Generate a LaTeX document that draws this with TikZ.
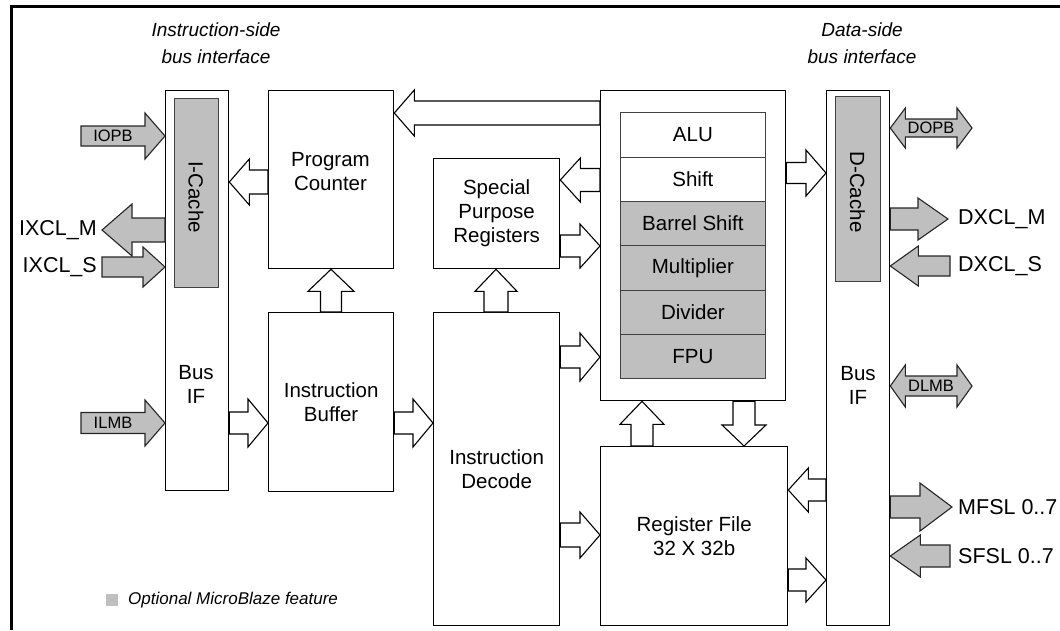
\documentclass[tikz,border=0pt]{standalone}
\usepackage{fontspec}
\setmainfont{Liberation Sans}
\usetikzlibrary{calc}
\tikzset{
  box/.style={draw=black, line width=1.3pt, fill=white, inner sep=0pt, align=center,
    font=\fontsize{20.5}{24}\selectfont, anchor=north west},
  optbox/.style={box, fill=black!25, line width=0.8pt, draw=black!75},
  plainrow/.style={box, line width=0.8pt, draw=black!75},
  hollow/.style={draw=black, fill=white, line width=1.1pt, line join=miter},
  grayarr/.style={draw=black!85, fill=black!25, line width=1.1pt, line join=miter},
  lbl/.style={font=\fontsize{21.5}{24}\selectfont, inner sep=0pt},
  inlbl/.style={font=\fontsize{16.5}{18}\selectfont, inner sep=0pt},
  txt/.style={font=\fontsize{20.5}{24}\selectfont, inner sep=0pt, align=center},
  hdr/.style={font=\fontsize{19}{27}\selectfont\itshape, align=center, inner sep=0pt},
  frameline/.style={line width=3pt, black},
}
% horizontal block arrow: style, tail, tip, body half, head half, head length
\newcommand{\hblock}[6]{%
  \draw[#1] let \p1=#2, \p2=#3, \n1={sign(\x2-\x1)} in
    (\x1,\y2+#4) -- ({\x2-(\n1)*#6},\y2+#4) -- ({\x2-(\n1)*#6},\y2+#5) -- (\x2,\y2)
    -- ({\x2-(\n1)*#6},\y2-#5) -- ({\x2-(\n1)*#6},\y2-#4) -- (\x1,\y2-#4) -- cycle;}
% vertical block arrow
\newcommand{\vblock}[6]{%
  \draw[#1] let \p1=#2, \p2=#3, \n1={sign(\y2-\y1)} in
    (\x2+#4,\y1) -- (\x2+#4,{\y2-(\n1)*#6}) -- (\x2+#5,{\y2-(\n1)*#6}) -- (\x2,\y2)
    -- (\x2-#5,{\y2-(\n1)*#6}) -- (\x2-#4,{\y2-(\n1)*#6}) -- (\x2-#4,\y1) -- cycle;}
% double block arrow: style, left tip, right tip, body half, head half, head length
\newcommand{\dblock}[6]{%
  \draw[#1] let \p1=#2, \p2=#3 in
    (\x1,\y1) -- (\x1+#6,\y1+#5) -- (\x1+#6,\y1+#4) -- (\x2-#6,\y1+#4) -- (\x2-#6,\y1+#5)
    -- (\x2,\y1) -- (\x2-#6,\y1-#5) -- (\x2-#6,\y1-#4) -- (\x1+#6,\y1-#4) -- (\x1+#6,\y1-#5) -- cycle;}
\begin{document}
\begin{tikzpicture}[x=1pt,y=-1pt]
\useasboundingbox (0,0) rectangle (1060,630);
% frame
\coordinate (ftl) at (11,6.5);
\coordinate (ftr) at (1060,6.5);
\coordinate (fbl) at (11,630);
\draw[frameline] (ftr) -- (ftl) -- (fbl);

% headers
\node[hdr] (hi) at (216,43) {Instruction-side\\bus interface};
\node[hdr] (hd) at (862,43) {Data-side\\bus interface};

% instruction side bus IF
\node[box, minimum width=63pt, minimum height=400pt] (ibif) at (165,90) {};
\node[optbox, minimum width=44pt, minimum height=189pt] (icache) at (174,98) {};
\node[txt, rotate=-90] (icl) at (196,197) {I-Cache};
\node[txt] (ibifl) at (196,384) {Bus\\IF};

% program counter, instruction buffer
\node[box, minimum width=125pt, minimum height=178pt] (pc) at (268,90) {};
\node[txt] (pcl) at (330.5,172) {Program\\Counter};
\node[box, minimum width=125pt, minimum height=179pt] (ibuf) at (268,312) {Instruction\\Buffer};

% SPR, ID
\node[box, minimum width=126pt, minimum height=110pt] (spr) at (433,158) {Special\\Purpose\\Registers};
\node[box, minimum width=126pt, minimum height=313pt] (id) at (433,312) {Instruction\\Decode};

% execution unit
\node[box, minimum width=185pt, minimum height=310pt] (exu) at (600,90) {};
\node[plainrow, minimum width=145pt, minimum height=45pt] (alu) at (620,112) {ALU};
\node[plainrow, minimum width=145pt, minimum height=44pt] (shift) at (620,157) {Shift};
\node[optbox, minimum width=145pt, minimum height=44pt] (bshift) at (620,201) {Barrel Shift};
\node[optbox, minimum width=145pt, minimum height=45pt] (mult) at (620,245) {Multiplier};
\node[optbox, minimum width=145pt, minimum height=44pt] (div) at (620,290) {Divider};
\node[optbox, minimum width=145pt, minimum height=44pt] (fpu) at (620,334) {FPU};

% register file
\node[box, minimum width=187pt, minimum height=179pt] (rf) at (600,446) {Register File\\32 X 32b};

% data side bus IF
\node[box, minimum width=63pt, minimum height=535pt] (dbif) at (826,90) {};
\node[optbox, minimum width=45pt, minimum height=185pt] (dcache) at (835,96) {};
\node[txt, rotate=-90] (dcl) at (857.5,192) {D-Cache};
\node[txt] (dbifl) at (858,385) {Bus\\IF};

% internal hollow arrows
\hblock{hollow}{(exu.west |- 0,113)}{(pc.east |- 0,113)}{12}{23}{20}
\hblock{hollow}{(pc.west |- 0,182)}{(ibif.east |- 0,182)}{12}{23}{20}
\vblock{hollow}{(331,0 |- ibuf.north)}{(331,0 |- pc.south)}{10.5}{23}{22}
\hblock{hollow}{(ibif.east |- 0,423)}{(ibuf.west |- 0,423)}{11}{24}{20}
\hblock{hollow}{(ibuf.east |- 0,423)}{(id.west |- 0,423)}{11}{24}{20}
\hblock{hollow}{(exu.west |- 0,180)}{(spr.east |- 0,180)}{11.5}{22}{20}
\hblock{hollow}{(spr.east |- 0,246)}{(exu.west |- 0,246)}{11}{22}{20}
\vblock{hollow}{(496,0 |- id.north)}{(496,0 |- spr.south)}{12}{21}{22}
\hblock{hollow}{(id.east |- 0,357)}{(exu.west |- 0,357)}{11}{24}{20}
\hblock{hollow}{(id.east |- 0,535)}{(rf.west |- 0,535)}{12}{23}{20}
\vblock{hollow}{(642,0 |- rf.north)}{(642,0 |- exu.south)}{11}{22}{23}
\vblock{hollow}{(744,0 |- exu.south)}{(744,0 |- rf.north)}{11}{22}{21}
\hblock{hollow}{(exu.east |- 0,173)}{(dbif.west |- 0,173)}{10.5}{23}{20}
\hblock{hollow}{(dbif.west |- 0,490)}{(rf.east |- 0,490)}{11}{22}{20}
\hblock{hollow}{(rf.east |- 0,580)}{(dbif.west |- 0,580)}{11}{22}{20}

% external gray arrows, instruction side
\coordinate (iopbt) at (81,136);
\hblock{grayarr}{(iopbt)}{(ibif.west |- 0,136)}{10}{23}{20}
\node[inlbl] (iopb) at (113,136) {IOPB};
\coordinate (ixmt) at (102,230);
\hblock{grayarr}{(ibif.west |- 0,230)}{(ixmt)}{12}{26}{30}
\node[lbl, anchor=east] (ixm) at (97,230) {IXCL\_M};
\coordinate (ixst) at (102,267);
\hblock{grayarr}{(ixst)}{(ibif.west |- 0,267)}{10}{20}{22}
\node[lbl, anchor=east] (ixs) at (97,267) {IXCL\_S};
\coordinate (ilmbt) at (81,423);
\hblock{grayarr}{(ilmbt)}{(ibif.west |- 0,423)}{10.5}{23}{20}
\node[inlbl] (ilmb) at (113,423) {ILMB};

% external gray arrows, data side
\coordinate (dopbr) at (972,128);
\dblock{grayarr}{(dbif.east |- 0,128)}{(dopbr)}{9}{20}{15}
\node[inlbl] (dopb) at (931,128) {DOPB};
\coordinate (dxmt) at (948,219);
\hblock{grayarr}{(dbif.east |- 0,219)}{(dxmt)}{11}{21}{30}
\node[lbl, anchor=west] (dxm) at (958,219) {DXCL\_M};
\coordinate (dxst) at (950,266);
\hblock{grayarr}{(dxst)}{(dbif.east |- 0,266)}{10}{20}{28}
\node[lbl, anchor=west] (dxs) at (958,266) {DXCL\_S};
\coordinate (dlmbr) at (972,386);
\dblock{grayarr}{(dbif.east |- 0,386)}{(dlmbr)}{10}{21}{15}
\node[inlbl] (dlmb) at (931,386) {DLMB};
\coordinate (mfslt) at (952,507);
\hblock{grayarr}{(dbif.east |- 0,507)}{(mfslt)}{11}{24}{32}
\node[lbl, anchor=west] (mfsl) at (958,507) {MFSL 0..7};
\coordinate (sfslt) at (950,556);
\hblock{grayarr}{(sfslt)}{(dbif.east |- 0,556)}{11}{21}{30}
\node[lbl, anchor=west] (sfsl) at (958,556) {SFSL 0..7};

% legend
\node[fill=black!25, minimum size=12pt, inner sep=0pt] (legsq) at (112,600) {};
\node[font=\fontsize{17}{20}\selectfont\itshape, anchor=west, inner sep=0pt] (legt) at (128,600) {Optional MicroBlaze feature};
\end{tikzpicture}
\end{document}
